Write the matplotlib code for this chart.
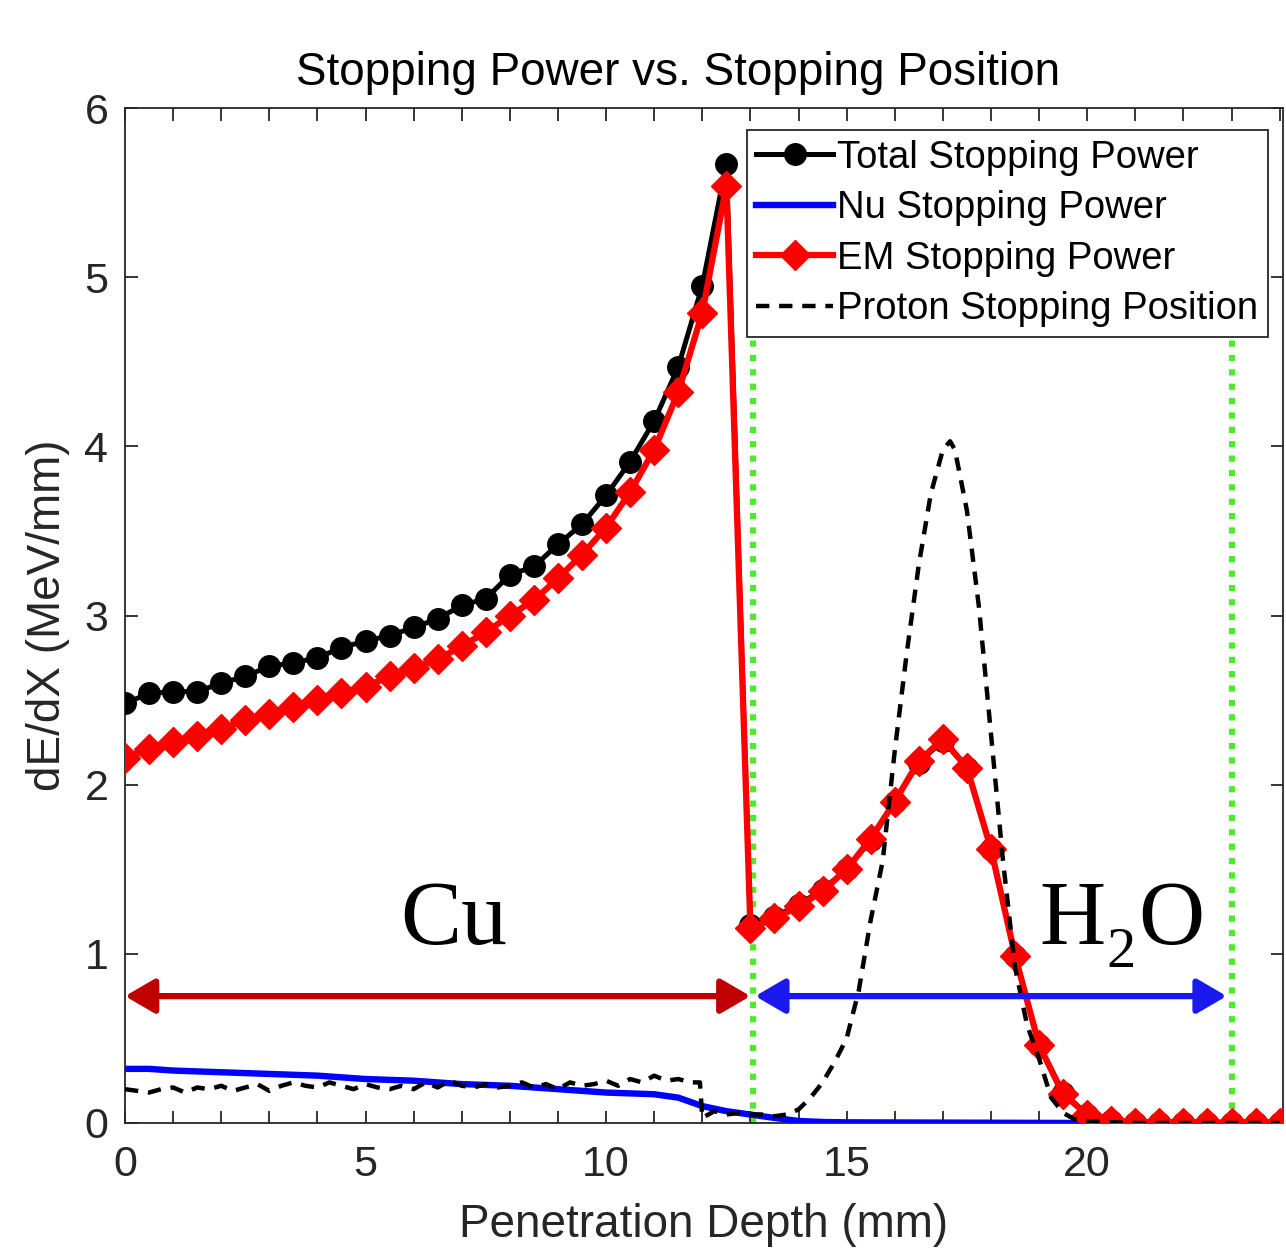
import numpy as np
import matplotlib
matplotlib.use("Agg")
import matplotlib.pyplot as plt

plt.rcParams['font.family'] = ['Liberation Sans', 'DejaVu Sans']

# depth grid of the stopping power curves (mm)
depth = np.arange(0, 24.01, 0.5)

total_sp = [2.48, 2.54, 2.55, 2.55, 2.60, 2.64, 2.70, 2.72, 2.75, 2.81,
            2.85, 2.88, 2.93, 2.98, 3.06, 3.10, 3.24, 3.29, 3.42, 3.54,
            3.71, 3.91, 4.15, 4.47, 4.95, 5.67, 1.17, 1.22, 1.29, 1.38,
            1.50, 1.67, 1.90, 2.13, 2.26, 2.10, 1.62, 0.99, 0.46, 0.18,
            0.05, 0.01, 0.0, 0.0, 0.0, 0.0, 0.0, 0.0, 0.0]

em_sp = [2.16, 2.21, 2.25, 2.29, 2.33, 2.38, 2.42, 2.46, 2.50, 2.54,
         2.58, 2.64, 2.69, 2.74, 2.82, 2.90, 3.00, 3.09, 3.22, 3.36,
         3.52, 3.73, 3.98, 4.32, 4.79, 5.54, 1.15, 1.21, 1.28, 1.37,
         1.50, 1.68, 1.90, 2.14, 2.27, 2.10, 1.62, 0.99, 0.46, 0.17,
         0.05, 0.01, 0.0, 0.0, 0.0, 0.0, 0.0, 0.0, 0.0]

nu_depth = [0, 0.5, 1, 2, 3, 4, 5, 6, 7, 8, 9, 10, 11, 11.5, 12, 12.5,
            13, 13.5, 14, 14.5, 15, 20, 24]
nu_sp = [0.32, 0.32, 0.31, 0.30, 0.29, 0.28, 0.26, 0.25, 0.23, 0.22, 0.20,
         0.18, 0.17, 0.15, 0.10, 0.07, 0.05, 0.03, 0.012, 0.006, 0.004,
         0.0, 0.0]

# proton stopping position distribution (dashed)
stop_depth = [0.0, 0.25, 0.5, 0.75, 1.0, 1.25, 1.5, 1.75, 2.0, 2.25, 2.5,
              2.75, 3.0, 3.25, 3.5, 3.75, 4.0, 4.25, 4.5, 4.75, 5.0, 5.25,
              5.5, 5.75, 6.0, 6.25, 6.5, 6.75, 7.0, 7.25, 7.5, 7.75, 8.0,
              8.25, 8.5, 8.75, 9.0, 9.25, 9.5, 9.75, 10.0, 10.25, 10.5,
              10.75, 11.0, 11.25, 11.5, 11.75, 11.95, 12.0, 12.25, 12.5,
              12.75, 13.0, 13.25, 13.5, 13.75, 14.0, 14.25, 14.5, 14.75,
              15.0, 15.25, 15.5, 15.75, 16.0, 16.25, 16.5, 16.75, 17.0,
              17.15, 17.25, 17.5, 17.75, 18.0, 18.25, 18.5, 18.75, 19.0,
              19.25, 19.5, 19.75, 20.0, 21.0, 22.0, 23.0, 24.0]
stop_pos = [0.20, 0.19, 0.18, 0.20, 0.21, 0.18, 0.21, 0.20, 0.22, 0.19, 0.21,
            0.23, 0.19, 0.22, 0.24, 0.22, 0.21, 0.24, 0.22, 0.20, 0.23, 0.21,
            0.20, 0.22, 0.20, 0.24, 0.21, 0.25, 0.22, 0.21, 0.23, 0.21, 0.22,
            0.24, 0.21, 0.23, 0.20, 0.24, 0.22, 0.23, 0.25, 0.22, 0.26,
            0.24, 0.28, 0.25, 0.26, 0.24, 0.24, 0.03, 0.07, 0.05,
            0.06, 0.05, 0.05, 0.04, 0.05, 0.08, 0.15, 0.24, 0.36,
            0.50, 0.78, 1.20, 1.55, 2.20, 2.78, 3.30, 3.72, 3.98,
            4.03, 3.98, 3.62, 3.05, 2.30, 1.55, 0.92, 0.58, 0.38,
            0.15, 0.06, 0.02, 0.01, 0.0, 0.0, 0.0, 0.0]

cu_range = (0, 13.0)
h2o_range = (13.1, 22.9)
boundaries = [13.05, 23.0]
arrow_y = 0.75

fig = plt.figure(figsize=(12.86, 12.51), dpi=100)
ax = fig.add_axes([125/1286, 128/1251, 1158/1286, 1015/1251])

for xb in boundaries:
    ax.plot([xb, xb], [0, 4.7], color='#50e830', lw=4.5, ls=(0, (1, 1.3)), zorder=1)

ax.plot(depth, total_sp, '-o', color='black', lw=3.6, ms=15.5,
        label='Total Stopping Power', zorder=3)
ax.plot(nu_depth, nu_sp, '-', color='#0000ff', lw=4.6, label='Nu Stopping Power', zorder=3)
ax.plot(depth, em_sp, '-D', color='#ff0000', lw=4.5, ms=15,
        label='EM Stopping Power', zorder=4)
ax.plot(stop_depth, stop_pos, '--', color='black', lw=3.2, dashes=(3, 2.2),
        label='Proton Stopping Position', zorder=5)

ax.annotate('', xy=(cu_range[0], arrow_y), xytext=(cu_range[1], arrow_y),
            arrowprops=dict(arrowstyle='<|-|>,head_length=0.6,head_width=0.35',
                            color='#c00000', lw=4.5, mutation_scale=30,
                            shrinkA=0, shrinkB=0), zorder=6)
ax.annotate('', xy=(h2o_range[0], arrow_y), xytext=(h2o_range[1], arrow_y),
            arrowprops=dict(arrowstyle='<|-|>,head_length=0.6,head_width=0.35',
                            color='#1a1aee', lw=4.5, mutation_scale=30,
                            shrinkA=0, shrinkB=0), zorder=6)

serif = 'Liberation Serif'
ax.text(5.72, 1.06, 'Cu', fontsize=66, family=serif, va='baseline', zorder=7)
ax.text(19.0, 1.06, 'H', fontsize=66, family=serif, va='baseline', zorder=7)
ax.text(20.4, 0.92, '2', fontsize=42, family=serif, va='baseline', zorder=7)
ax.text(21.07, 1.06, 'O', fontsize=66, family=serif, va='baseline', zorder=7)

ax.set_xlim(0, 24.07)
ax.set_ylim(0, 6)
ax.set_xticks([0, 5, 10, 15, 20])
ax.set_xticks(np.arange(0, 24.1, 1), minor=True)
ax.set_yticks(range(7))
ax.tick_params(which='both', direction='in', top=True, right=True,
               colors='#262626', labelsize=31, width=1.3)
ax.tick_params(which='major', length=9)
ax.tick_params(which='minor', length=9)
ax.tick_params(axis='x', pad=16)
ax.tick_params(axis='y', pad=12)
for sp in ax.spines.values():
    sp.set_color('#262626')
    sp.set_linewidth(1.3)

ax.set_xlabel('Penetration Depth (mm)', fontsize=33, color='#262626', labelpad=13)
ax.set_ylabel('dE/dX (MeV/mm)', fontsize=33, color='#262626', labelpad=10)
ax.text(0.4775, 1.0227, 'Stopping Power vs. Stopping Position', transform=ax.transAxes,
        ha='center', va='baseline', fontsize=33, color='black')

leg = ax.legend(loc='upper right', bbox_to_anchor=(1.0 - 15/1158, 1.0 - 22/1015),
                fontsize=27.5, frameon=True, fancybox=False, framealpha=1,
                edgecolor='#262626', handlelength=2.0, handletextpad=0.12,
                labelspacing=0.38, borderpad=0.25, borderaxespad=0)
leg.get_frame().set_linewidth(1.3)
leg.set_zorder(10)

fig.savefig('out.png', dpi=100)
